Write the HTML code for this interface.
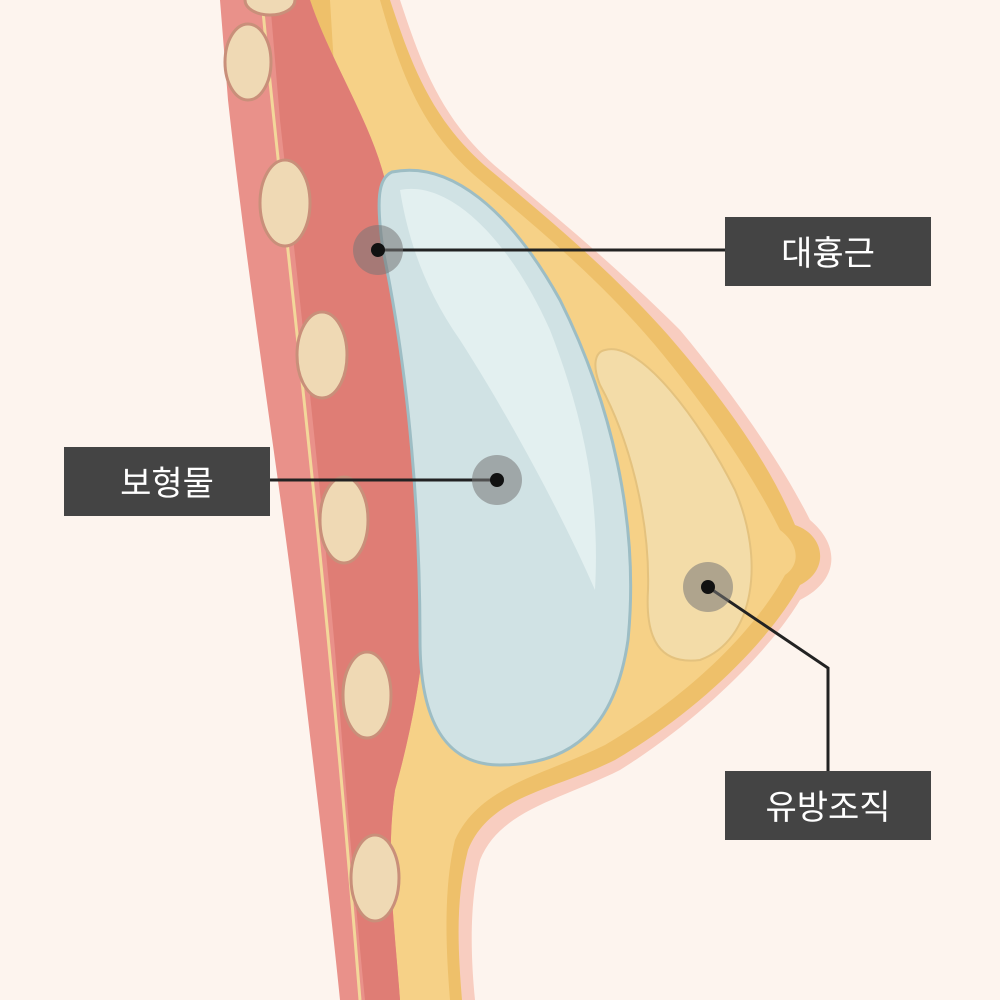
<!DOCTYPE html>
<html><head><meta charset="utf-8"><style>
html,body{margin:0;padding:0;background:#fdf4ee;}
svg{display:block}
text{font-family:"Liberation Sans","Noto Sans CJK KR",sans-serif;}
</style></head><body>
<svg width="1000" height="1000" viewBox="0 0 1000 1000" xmlns="http://www.w3.org/2000/svg">
<rect width="1000" height="1000" fill="#fdf4ee"/>
<path d="M300,0 L400,0 C420,60 440,120 500,170 C560,220 620,270 680,330 C730,390 780,460 810,520 C840,545 840,580 800,600 C770,650 700,720 620,770 C560,800 500,810 480,860 C470,900 470,950 475,1000 L380,1000 Z" fill="#f8cdc0"/>
<path d="M300,0 L390,0 C410,60 430,120 490,170 C550,220 610,270 668,335 C720,395 768,460 795,525 C825,535 830,570 800,585 C770,640 700,710 615,760 C555,790 490,795 468,850 C455,900 458,950 462,1000 L370,1000 Z" fill="#eec06a"/>
<path d="M330,0 L380,0 C400,70 420,130 480,180 C540,230 600,280 655,345 C705,405 750,470 780,530 C800,545 800,565 785,575 C755,630 690,695 605,745 C545,775 480,785 455,840 C443,890 446,950 450,1000 L390,1000 Z" fill="#f6d187"/>
<path d="M220,0 L310,0 C330,60 370,120 385,180 C410,280 430,400 430,520 C430,620 420,700 395,790 C385,860 395,930 400,1000 L340,1000 C330,900 315,780 300,650 C280,480 250,300 228,100 Z" fill="#e9918a"/>
<path d="M270,0 L310,0 C330,60 370,120 385,180 C410,280 430,400 430,520 C430,620 420,700 395,790 C385,860 395,930 400,1000 L365,1000 C355,900 345,780 335,650 C320,480 300,300 280,120 Z" fill="#df7d75"/>
<path d="M262,0 C280,200 320,500 360,1000" stroke="#f3d79a" stroke-width="3" fill="none"/>
<g fill="#efd9b4" stroke="#c98f7a" stroke-width="3">
<ellipse cx="248" cy="62" rx="23" ry="38"/>
<ellipse cx="270" cy="0" rx="25" ry="15"/>
<ellipse cx="285" cy="203" rx="25" ry="43"/>
<ellipse cx="322" cy="355" rx="25" ry="43"/>
<ellipse cx="344" cy="520" rx="24" ry="43"/>
<ellipse cx="367" cy="695" rx="24" ry="43"/>
<ellipse cx="375" cy="878" rx="24" ry="43"/>
</g>
<path d="M392,172 C450,160 510,210 560,300 C610,400 640,520 628,640 C615,730 570,765 500,765 C445,765 420,720 420,640 C420,520 410,380 383,250 C376,200 378,178 392,172 Z" fill="#d0e2e4" stroke="#9dbdc4" stroke-width="3"/>
<path d="M400,190 C450,180 510,240 550,330 C585,420 600,500 595,590 C560,510 505,410 460,340 C425,290 408,240 400,190 Z" fill="#e3f0f0"/>
<path d="M605,350 C640,340 700,420 735,490 C765,560 755,640 700,660 C660,665 645,640 648,590 C650,520 630,440 600,385 C592,365 595,352 605,350 Z" fill="#f3dca8" stroke="#e4c27e" stroke-width="2"/>
<g stroke="#222" stroke-width="3" fill="none">
<line x1="378" y1="250" x2="725" y2="250"/>
<line x1="270" y1="480" x2="497" y2="480"/>
<polyline points="708,587 828,668 828,771"/>
</g>
<g>
<circle cx="378" cy="250" r="25" fill="#777" opacity="0.55"/>
<circle cx="497" cy="480" r="25" fill="#777" opacity="0.55"/>
<circle cx="708" cy="587" r="25" fill="#777" opacity="0.55"/>
<circle cx="378" cy="250" r="7" fill="#111"/>
<circle cx="497" cy="480" r="7" fill="#111"/>
<circle cx="708" cy="587" r="7" fill="#111"/>
</g>
<rect x="725" y="217" width="206" height="69" fill="#444"/>
<text x="828" y="265" font-size="34" fill="#fff" text-anchor="middle">대흉근</text>
<rect x="64" y="447" width="206" height="69" fill="#444"/>
<text x="167" y="495" font-size="34" fill="#fff" text-anchor="middle">보형물</text>
<rect x="725" y="771" width="206" height="69" fill="#444"/>
<text x="828" y="819" font-size="34" fill="#fff" text-anchor="middle">유방조직</text>
</svg>
</body></html>
